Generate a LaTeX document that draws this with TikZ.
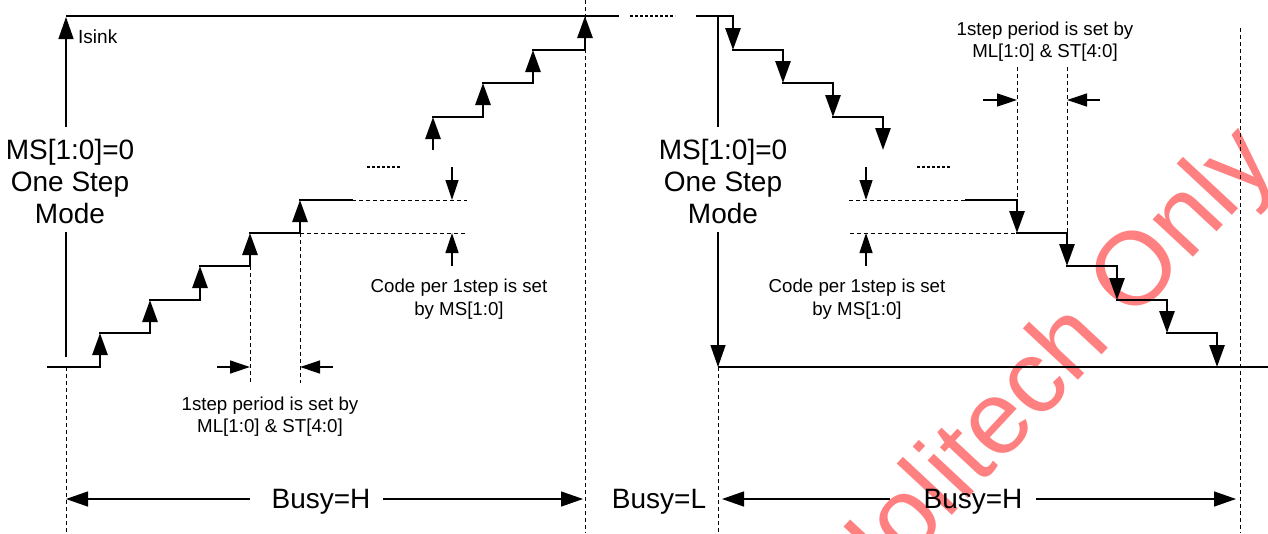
\documentclass[tikz,border=0pt]{standalone}
\usepackage{fontspec}
\setmainfont{Liberation Sans}
\usetikzlibrary{arrows.meta}
\definecolor{wmred}{RGB}{255,128,128}
\begin{document}
\begin{tikzpicture}[x=1pt,y=-1pt,
  wire/.style={line width=1.3pt},
  stair/.style={line width=2.8pt},
  flat/.style={line width=2.8pt,line cap=rect},
  guide/.style={line width=1pt,dash pattern=on 4pt off 3pt},
  dots/.style={line width=1.4pt,dash pattern=on 3pt off 2pt},
  bigtip/.style={-{Triangle[length=22pt,width=15pt]}},
  smalltip/.style={-{Triangle[length=20pt,width=13pt]}},
  big/.style={font=\fontsize{28}{32}\selectfont,inner sep=0pt,anchor=base},
  small/.style={font=\fontsize{18.7}{22}\selectfont,inner sep=0pt,anchor=base}]
\useasboundingbox (0,0) rectangle (1268,533);
\fill[white] (0,0) rectangle (1268,533);
% watermark
\begin{scope}
\clip (0,0) rectangle (1268,533);
\node[wmred,font=\fontsize{104}{104}\selectfont,inner sep=0pt,anchor=base west,rotate=47] (wm) at (857,618) {Holitech Only};
\end{scope}
% dashed guides
\draw[guide] (66,367) -- (66,533);
\draw[guide] (585,0) -- (585,533);
\draw[guide] (718,367) -- (718,533);
\draw[guide] (1240,28) -- (1240,533);
\draw[guide] (250,266) -- (250,383);
\draw[guide] (300,233) -- (300,383);
\draw[guide] (1017,67) -- (1017,200);
\draw[guide] (1067,67) -- (1067,233);
\draw[guide] (352,200) -- (467,200);
\draw[guide] (300,233) -- (467,233);
\draw[guide] (849,200) -- (966,200);
\draw[guide] (850,233) -- (1017,233);
% dotted continuations
\draw[dots] (630,16) -- (675,16);
\draw[dots] (367,167) -- (400,167);
\draw[dots] (917,167) -- (950,167);
% axes
\draw[wire] (66,16) -- (585,16);
\draw[wire] (66,357) -- (66,232);
\draw[wire,bigtip] (66,127) -- (66,17);
\draw[wire] (718,16) -- (718,127);
\draw[wire,bigtip] (718,232) -- (718,367);
\draw[wire] (718,367) -- (1268,367);
% left staircase
\draw[flat] (48,367) -- (100,367);
\foreach \xa/\xb/\ya/\yb in {100/150/367/333,150/200/333/300,200/250/300/266,250/300/266/233,300/352/233/200}{
  \draw[stair,bigtip] (\xa,\ya) -- (\xa,\yb);
  \draw[flat] (\xa,\yb) -- (\xb,\yb);
}
\foreach \xa/\xb/\ya/\yb in {433/483/150/117,483/533/117/83,533/585/83/50,585/618/50/16}{
  \draw[stair,bigtip] (\xa,\ya) -- (\xa,\yb);
  \draw[flat] (\xa,\yb) -- (\xb,\yb);
}
% right staircase
\draw[flat] (697,16) -- (733,16);
\foreach \xa/\xb/\ya/\yb in {733/783/16/50,783/833/50/83,833/883/83/117}{
  \draw[stair,bigtip] (\xa,\ya) -- (\xa,\yb);
  \draw[flat] (\xa,\yb) -- (\xb,\yb);
}
\draw[stair,bigtip] (883,117) -- (883,150);
\draw[flat] (966,200) -- (1017,200);
\foreach \xa/\xb/\ya/\yb in {1017/1067/200/233,1067/1117/233/266,1117/1167/266/300,1167/1217/300/333,1217/1268/333/367}{
  \draw[stair,bigtip] (\xa,\ya) -- (\xa,\yb);
  \draw[flat] (\xa,\yb) -- (\xb,\yb);
}
% code step arrows
\draw[wire,smalltip] (452,167) -- (452,200);
\draw[wire,smalltip] (452,266) -- (452,233);
\draw[wire,smalltip] (866,167) -- (866,200);
\draw[wire,smalltip] (866,266) -- (866,233);
% period arrows
\draw[wire,smalltip] (217,367) -- (250,367);
\draw[wire,smalltip] (333,367) -- (300,367);
\draw[wire,smalltip] (983,100) -- (1017,100);
\draw[wire,smalltip] (1100,100) -- (1067,100);
% busy arrows
\draw[wire,bigtip] (250,499) -- (66,499);
\draw[wire,bigtip] (383,499) -- (583,499);
\draw[wire,bigtip] (890,499) -- (722,499);
\draw[wire,bigtip] (1036,499) -- (1236,499);
% texts
\node[font=\fontsize{19}{22}\selectfont,inner sep=0pt,anchor=base west] (isink) at (78,43) {Isink};
\node[big] (msl1) at (70,159) {MS[1:0]=0};
\node[big] (msl2) at (70,191) {One Step};
\node[big] (msl3) at (70,223) {Mode};
\node[big] (msr1) at (723,159) {MS[1:0]=0};
\node[big] (msr2) at (723,191) {One Step};
\node[big] (msr3) at (723,223) {Mode};
\node[small] (codel1) at (459,292) {Code per 1step is set};
\node[small] (codel2) at (459,315) {by MS[1:0]};
\node[small] (coder1) at (857,292) {Code per 1step is set};
\node[small] (coder2) at (857,315) {by MS[1:0]};
\node[small] (perl1) at (270,410) {1step period is set by};
\node[small] (perl2) at (270,432) {ML[1:0] \& ST[4:0]};
\node[small] (perr1) at (1045,35) {1step period is set by};
\node[small] (perr2) at (1045,57) {ML[1:0] \& ST[4:0]};
\node[big] (busyl) at (321,508) {Busy=H};
\node[big] (busym) at (659,508) {Busy=L};
\node[big] (busyr) at (973,508) {Busy=H};
\end{tikzpicture}
\end{document}
